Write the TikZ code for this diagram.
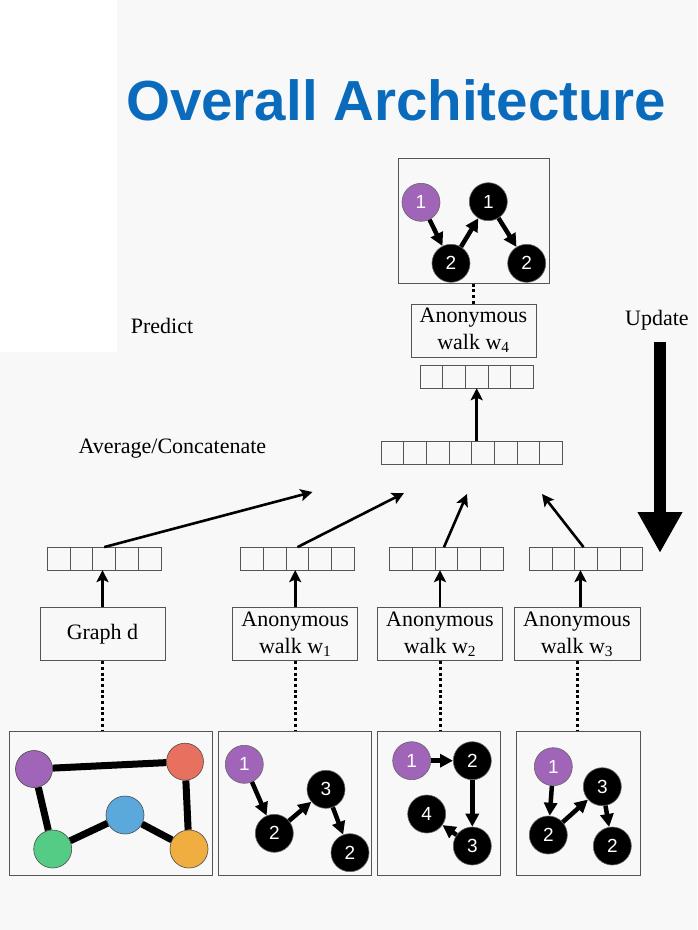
\documentclass[tikz,border=0pt]{standalone}
\usepackage{fontspec}
\setmainfont{Liberation Serif}
\newfontfamily\headfont{Liberation Sans}
\usetikzlibrary{arrows.meta}
\definecolor{bgcol}{HTML}{F8F8F8}
\definecolor{titleblue}{HTML}{0A6BBD}
\definecolor{walkpurple}{HTML}{A065B8}
\definecolor{nodered}{HTML}{E8705F}
\definecolor{nodeblue}{HTML}{5BA8DC}
\definecolor{nodegreen}{HTML}{55CC85}
\definecolor{nodeorange}{HTML}{F0AD40}
\definecolor{framegray}{HTML}{555555}

% a row of embedding cells: name, x, y, number of cells
\newcommand{\cellrow}[4]{%
  \node[cellvec, minimum width=#4*22.7pt] (#1) at (#2,#3) {};
  \foreach \k in {2,...,#4}
    \draw[cellline] ([xshift=(\k-1)*22.7pt]#1.north west) -- ([xshift=(\k-1)*22.7pt]#1.south west);
}

\begin{document}
\begin{tikzpicture}[x=1pt,y=-1pt,
    txt/.style={inner sep=0pt, font=\fontsize{22}{26.7}\selectfont},
    lblbox/.style={draw=framegray, line width=0.9pt, minimum width=125pt, minimum height=53pt,
      inner sep=0pt, align=center, font=\fontsize{22}{26.7}\selectfont},
    panel/.style={draw=framegray, line width=0.9pt, inner sep=0pt},
    cellvec/.style={draw=framegray, line width=0.9pt, minimum height=23pt, inner sep=0pt, outer sep=0pt},
    cellline/.style={framegray, line width=0.9pt},
    walknode/.style={circle, fill=black, draw=black!60, line width=0.6pt, minimum size=38pt,
      inner sep=0pt, text=white, font=\headfont\fontsize{19}{19}\selectfont},
    startnode/.style={walknode, fill=walkpurple},
    graphnode/.style={circle, fill=#1, draw=black!70, line width=0.6pt, minimum size=37pt, inner sep=0pt},
    gedge/.style={line width=7pt},
    walkarrow/.style={line width=4.5pt, -{Triangle[length=13pt,width=13pt]}},
    uparrow/.style={line width=2.6pt, -{Stealth[length=12pt,width=12pt,inset=2.5pt]}},
    dots/.style={line width=3pt, dash pattern=on 3pt off 2.7pt}]

  \useasboundingbox (0,0) rectangle (697,930);
  \fill[bgcol] (0,0) rectangle (697,930);
  \fill[white] (0,0) rectangle (117,352);

  \node[anchor=base west, inner sep=0pt, text=titleblue, font=\headfont\bfseries\fontsize{56.5}{60}\selectfont]
    (title) at (126,120) {Overall Architecture};
  \node[txt, anchor=base west] (predict) at (130.7,333.3) {Predict};
  \node[txt, anchor=base west] (update) at (625,325.7) {Update};
  \node[txt, anchor=base west] (avg) at (78.3,453.3) {Average/Concatenate};

  % update arrow
  \coordinate (updtop) at (660,342);
  \coordinate (updtip) at (660,553);
  \draw[line width=12pt, -{Triangle[length=41pt,width=42pt]}] (updtop) -- (updtip);

  % walk w4 on top
  \node[panel, minimum width=151pt, minimum height=125pt] (pw4) at (473.6,220.8) {};
  \node[startnode] (t1) at (421,202.3) {1};
  \node[walknode] (t2) at (451,263.3) {2};
  \node[walknode] (t3) at (488.3,201.7) {1};
  \node[walknode] (t4) at (526.7,263.3) {2};
  \draw[walkarrow] (t1) -- (t2);
  \draw[walkarrow] (t2) -- (t3);
  \draw[walkarrow] (t3) -- (t4);
  \node[lblbox] (w4) at (473.5,330.5) {Anonymous\\walk w\textsubscript{4}};
  \draw[dots] (pw4.south) -- (pw4.south |- w4.north);
  \cellrow{top}{476.7}{376.7}{5}
  \cellrow{big}{471.8}{452.5}{8}
  \draw[uparrow] (big.north -| top.south) -- (top.south);

  % embedding rows
  \cellrow{v1}{104.2}{558.6}{5}
  \cellrow{v2}{297.5}{558.6}{5}
  \cellrow{v3}{446.5}{558.6}{5}
  \cellrow{v4}{586}{558.6}{5}
  \coordinate (e1) at (312.5,492);
  \coordinate (e2) at (404,493);
  \coordinate (e3) at (467,494);
  \coordinate (e4) at (542,494);
  \draw[uparrow] (v1.north) -- (e1);
  \draw[uparrow] (v2.north) -- (e2);
  \draw[uparrow] ([xshift=-2.5pt]v3.north) -- (e3);
  \draw[uparrow] ([xshift=-2.5pt]v4.north) -- (e4);

  % labels
  \node[lblbox] (gd) at (102.5,634.2) {Graph d};
  \node[lblbox] (w1) at (295.2,634.2) {Anonymous\\walk w\textsubscript{1}};
  \node[lblbox, minimum width=125.7pt] (w2) at (440,634.2) {Anonymous\\walk w\textsubscript{2}};
  \node[lblbox, minimum width=126pt] (w3) at (577,634.2) {Anonymous\\walk w\textsubscript{3}};
  \draw[uparrow] (gd) -- (gd |- v1.south);
  \draw[uparrow] (w1) -- (w1 |- v2.south);
  \draw[uparrow] (w2) -- (w2 |- v3.south);
  \draw[uparrow] ([xshift=3.5pt]w3.north) -- ([xshift=3.5pt]w3.north |- v4.south);

  % panels
  \node[panel, minimum width=203pt, minimum height=143.3pt] (pg) at (110.5,803.3) {};
  \node[panel, minimum width=153.4pt, minimum height=143.3pt] (pw1) at (295,803.3) {};
  \node[panel, minimum width=123pt, minimum height=143.3pt] (pw2) at (439.2,803.3) {};
  \node[panel, minimum width=124pt, minimum height=143.3pt] (pw3) at (578.7,803.3) {};
  \draw[dots] (gd.south) -- (gd.south |- pg.north);
  \draw[dots] (w1.south) -- (w1.south |- pw1.north);
  \draw[dots] (w2.south) -- (w2.south |- pw2.north);
  \draw[dots] (w3.south) -- (w3.south |- pw3.north);

  % graph d
  \node[graphnode=walkpurple] (gp) at (34,769) {};
  \node[graphnode=nodered] (gr) at (185,761.7) {};
  \node[graphnode=nodeblue, minimum size=38pt] (gb) at (125,815) {};
  \node[graphnode=nodegreen, minimum size=38pt] (gg) at (52.7,849) {};
  \node[graphnode=nodeorange, minimum size=38pt] (go) at (189,849) {};
  \draw[gedge] (gp) -- (gr);
  \draw[gedge] (gp) -- (gg);
  \draw[gedge] (gg) -- (gb);
  \draw[gedge] (gb) -- (go);
  \draw[gedge] (gr) -- (go);

  % walk w1
  \node[startnode] (a1) at (244.3,764.3) {1};
  \node[walknode] (a2) at (274.3,833.3) {2};
  \node[walknode] (a3) at (326,789.3) {3};
  \node[walknode] (a4) at (350,852.7) {2};
  \draw[walkarrow] (a1) -- (a2);
  \draw[walkarrow] (a2) -- (a3);
  \draw[walkarrow] (a3) -- (a4);

  % walk w2
  \node[startnode] (b1) at (411.7,760.7) {1};
  \node[walknode] (b2) at (472.3,760.7) {2};
  \node[walknode] (b3) at (472.3,846) {3};
  \node[walknode] (b4) at (426.7,814) {4};
  \draw[walkarrow] (b1) -- (b2);
  \draw[walkarrow] (b2) -- (b3);
  \draw[walkarrow] (b3) -- (b4);

  % walk w3
  \node[startnode] (c1) at (553.3,766.7) {1};
  \node[walknode] (c2) at (548.3,835) {2};
  \node[walknode] (c3) at (602.3,786.7) {3};
  \node[walknode] (c4) at (612.3,846) {2};
  \draw[walkarrow] (c1) -- (c2);
  \draw[walkarrow] (c2) -- (c3);
  \draw[walkarrow] (c3) -- (c4);
\end{tikzpicture}
\end{document}
